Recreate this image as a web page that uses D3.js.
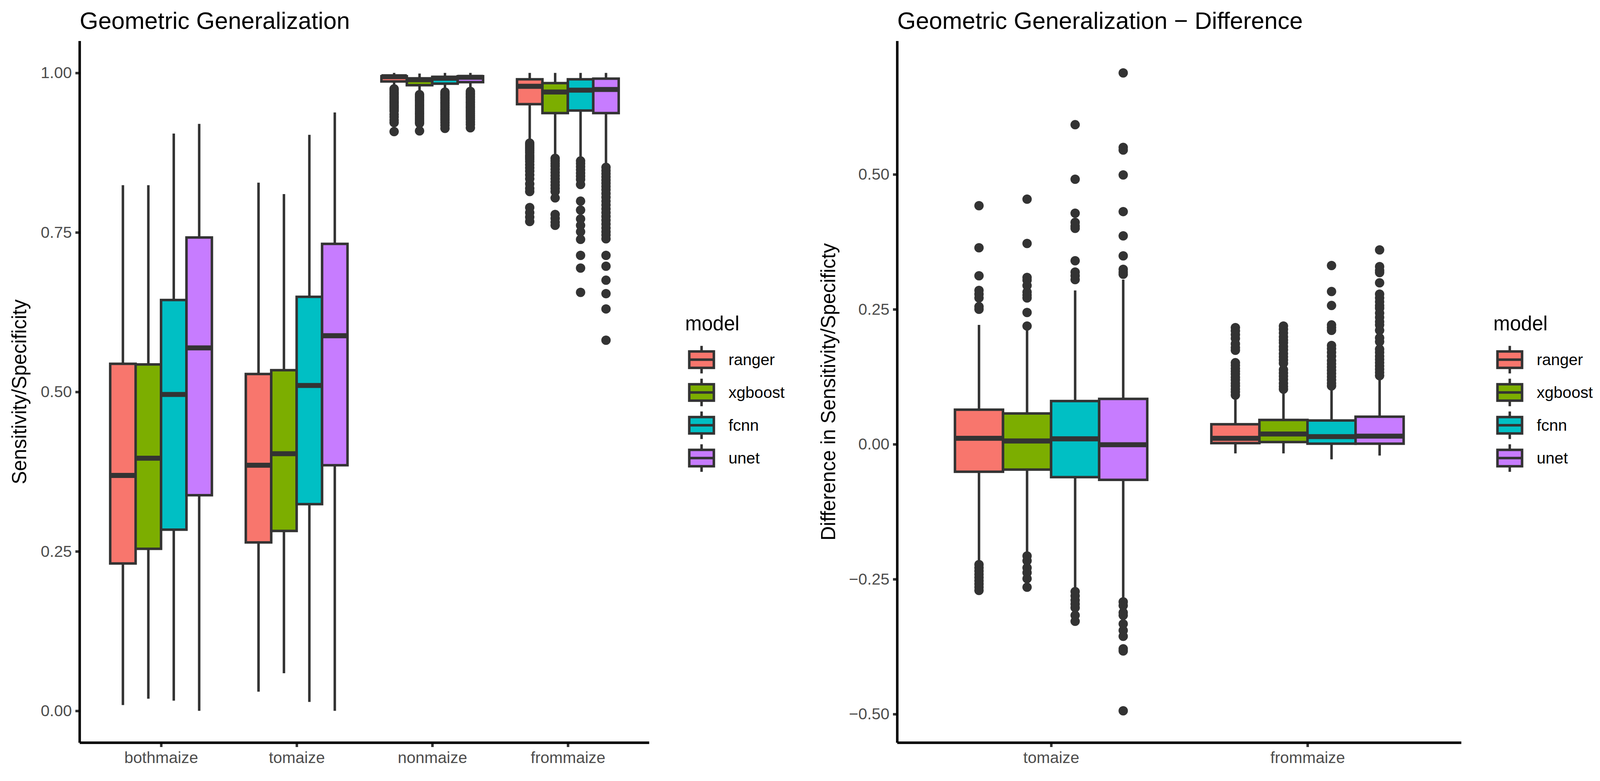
<!DOCTYPE html>
<html>
<head>
<meta charset="utf-8">
<script src="https://cdn.jsdelivr.net/npm/d3@7"></script>
<style>
  body { margin: 0; background: #fff; }
  text { font-family: "Liberation Sans", Arial, sans-serif; }
</style>
</head>
<body>
<svg id="chart" width="4103" height="2000"></svg>
<script>
const models = ['ranger', 'xgboost', 'fcnn', 'unet'];
const COLORS = ['#F8766D', '#7CAE00', '#00BFC4', '#C77CFF'];

// box stats per model: [lower whisker, Q1, median, Q3, upper whisker]
const geoCategories = ['bothmaize', 'tomaize', 'nonmaize', 'frommaize'];
const geoBothmaize = [
  [0.009, 0.231, 0.369, 0.544, 0.824],
  [0.019, 0.254, 0.396, 0.543, 0.824],
  [0.016, 0.284, 0.496, 0.644, 0.905],
  [0.0, 0.338, 0.569, 0.742, 0.920]
];
const geoTomaize = [
  [0.030, 0.264, 0.385, 0.528, 0.828],
  [0.059, 0.282, 0.403, 0.534, 0.810],
  [0.014, 0.324, 0.510, 0.649, 0.903],
  [0.0, 0.385, 0.588, 0.732, 0.938]
];
const geoNonmaize = [
  [0.977, 0.9866, 0.9941, 0.9948, 1.0],
  [0.968, 0.9807, 0.9893, 0.9914, 0.999],
  [0.972, 0.9831, 0.9917, 0.9938, 1.0],
  [0.973, 0.9855, 0.9931, 0.9948, 1.0]
];
const geoFrommaize = [
  [0.892, 0.951, 0.979, 0.990, 1.0],
  [0.868, 0.937, 0.970, 0.984, 1.0],
  [0.864, 0.941, 0.973, 0.990, 1.0],
  [0.854, 0.937, 0.974, 0.991, 1.0]
];
const geoNonmaizeOutliers = [
  [0.975, 0.973, 0.970, 0.968, 0.966, 0.963, 0.961, 0.959, 0.956, 0.954, 0.952, 0.949, 0.947, 0.945, 0.942, 0.940, 0.935, 0.931, 0.926, 0.922, 0.908],
  [0.966, 0.963, 0.961, 0.958, 0.956, 0.953, 0.950, 0.948, 0.945, 0.943, 0.940, 0.937, 0.935, 0.932, 0.929, 0.926, 0.923, 0.921, 0.909],
  [0.970, 0.967, 0.965, 0.962, 0.960, 0.957, 0.954, 0.952, 0.949, 0.946, 0.943, 0.941, 0.938, 0.935, 0.932, 0.929, 0.926, 0.922, 0.918, 0.913],
  [0.971, 0.968, 0.966, 0.963, 0.961, 0.958, 0.955, 0.953, 0.950, 0.947, 0.945, 0.942, 0.939, 0.936, 0.933, 0.930, 0.927, 0.923, 0.919, 0.914]
];
const geoFrommaizeOutliers = [
  [0.890, 0.887, 0.884, 0.881, 0.878, 0.875, 0.871, 0.868, 0.865, 0.861, 0.856, 0.851, 0.846, 0.840, 0.834, 0.826, 0.819, 0.814, 0.789, 0.781, 0.774, 0.767],
  [0.866, 0.862, 0.858, 0.854, 0.849, 0.844, 0.839, 0.834, 0.829, 0.824, 0.819, 0.814, 0.804, 0.778, 0.772, 0.766, 0.761],
  [0.862, 0.858, 0.853, 0.848, 0.843, 0.838, 0.833, 0.825, 0.799, 0.785, 0.771, 0.761, 0.751, 0.739, 0.714, 0.694, 0.656],
  [0.852, 0.847, 0.842, 0.837, 0.832, 0.827, 0.822, 0.817, 0.811, 0.805, 0.799, 0.793, 0.787, 0.781, 0.775, 0.769, 0.763, 0.757, 0.751, 0.746, 0.740, 0.714, 0.697, 0.675, 0.654, 0.630, 0.581]
];
const geoTicks = [0, 0.25, 0.5, 0.75, 1];

const diffCategories = ['tomaize', 'frommaize'];
const diffTomaize = [
  [-0.221, -0.051, 0.011, 0.064, 0.221],
  [-0.202, -0.047, 0.006, 0.057, 0.213],
  [-0.266, -0.061, 0.010, 0.080, 0.285],
  [-0.287, -0.066, -0.001, 0.084, 0.305]
];
const diffFrommaize = [
  [-0.017, 0.002, 0.011, 0.037, 0.087],
  [-0.017, 0.004, 0.019, 0.045, 0.100],
  [-0.028, 0.001, 0.014, 0.044, 0.106],
  [-0.021, 0.001, 0.015, 0.051, 0.121]
];
const diffTomaizeOutliers = [
  [0.442, 0.364, 0.312, 0.285, 0.278, 0.271, 0.255, 0.250, -0.223, -0.229, -0.235, -0.241, -0.247, -0.253, -0.259, -0.265, -0.271],
  [0.454, 0.372, 0.309, 0.304, 0.294, 0.282, 0.276, 0.271, 0.244, 0.219, -0.207, -0.216, -0.229, -0.238, -0.249, -0.265],
  [0.592, 0.491, 0.428, 0.411, 0.404, 0.400, 0.340, 0.319, 0.312, 0.305, -0.273, -0.281, -0.289, -0.296, -0.303, -0.317, -0.328],
  [0.688, 0.550, 0.545, 0.499, 0.431, 0.386, 0.349, 0.324, 0.319, 0.315, -0.292, -0.299, -0.312, -0.317, -0.333, -0.345, -0.356, -0.379, -0.383, -0.494]
];
const diffFrommaizeOutliers = [
  [0.216, 0.210, 0.203, 0.196, 0.186, 0.179, 0.174, 0.151, 0.146, 0.140, 0.135, 0.130, 0.124, 0.119, 0.113, 0.108, 0.102, 0.097, 0.091],
  [0.219, 0.213, 0.206, 0.199, 0.193, 0.188, 0.181, 0.175, 0.168, 0.162, 0.156, 0.150, 0.138, 0.132, 0.126, 0.120, 0.113, 0.107, 0.102],
  [0.331, 0.283, 0.257, 0.221, 0.216, 0.211, 0.183, 0.177, 0.170, 0.163, 0.155, 0.149, 0.143, 0.137, 0.131, 0.125, 0.119, 0.113, 0.108],
  [0.360, 0.329, 0.322, 0.318, 0.299, 0.278, 0.271, 0.264, 0.257, 0.252, 0.243, 0.235, 0.227, 0.221, 0.211, 0.197, 0.190, 0.176, 0.170, 0.163, 0.157, 0.151, 0.145, 0.139, 0.133, 0.127]
];
const diffTicks = [-0.5, -0.25, 0, 0.25, 0.5];

const LINE = '#333333';
const LW = 6.4;

const svg = d3.select('#chart');
svg.append('rect').attr('width', 4103).attr('height', 2000).attr('fill', '#fff');

// turn the arrays into one row per box
const toRows = (categories, boxes, outliers) => {
  const rows = [];
  categories.forEach((cat, ci) => {
    models.forEach((m, mi) => {
      const s = boxes[ci][mi];
      rows.push({
        cat, model: m, color: COLORS[mi],
        low: s[0], q1: s[1], med: s[2], q3: s[3], high: s[4],
        out: outliers[ci] ? outliers[ci][mi] : []
      });
    });
  });
  return rows;
};

const geoRows = toRows(geoCategories, [geoBothmaize, geoTomaize, geoNonmaize, geoFrommaize],
  [null, null, geoNonmaizeOutliers, geoFrommaizeOutliers]);
const diffRows = toRows(diffCategories, [diffTomaize, diffFrommaize],
  [diffTomaizeOutliers, diffFrommaizeOutliers]);

const drawPanel = (opt) => {
  const g = svg.append('g');
  const x = d3.scalePoint().domain(opt.categories).range([opt.left, opt.right]).padding(0.6);
  const dodge = d3.scaleBand().domain(models).range([-0.375 * x.step(), 0.375 * x.step()]);

  const vals = opt.rows.flatMap(r => [r.low, r.high, ...r.out]);
  const lo = d3.min(vals), hi = d3.max(vals), span = hi - lo;
  const y = d3.scaleLinear().domain([lo - 0.05 * span, hi + 0.05 * span]).range([opt.bottom, opt.top]);

  const boxes = g.selectAll('g.box').data(opt.rows).join('g').attr('class', 'box')
    .attr('transform', d => `translate(${x(d.cat) + dodge(d.model)},0)`);
  const bw = dodge.bandwidth();

  // outliers first, then whiskers, then the box (ggplot order)
  boxes.selectAll('circle').data(d => d.out).join('circle')
    .attr('cx', bw / 2).attr('cy', v => y(v)).attr('r', 12).attr('fill', LINE);

  boxes.append('line').attr('x1', bw / 2).attr('x2', bw / 2)
    .attr('y1', d => y(d.q3)).attr('y2', d => y(d.high))
    .attr('stroke', LINE).attr('stroke-width', LW);
  boxes.append('line').attr('x1', bw / 2).attr('x2', bw / 2)
    .attr('y1', d => y(d.q1)).attr('y2', d => y(d.low))
    .attr('stroke', LINE).attr('stroke-width', LW);

  boxes.append('rect').attr('x', 0).attr('width', bw)
    .attr('y', d => y(d.q3)).attr('height', d => y(d.q1) - y(d.q3))
    .attr('fill', d => d.color).attr('stroke', LINE).attr('stroke-width', LW)
    .attr('stroke-linejoin', 'miter');
  boxes.append('line').attr('x1', 0).attr('x2', bw)
    .attr('y1', d => y(d.med)).attr('y2', d => y(d.med))
    .attr('stroke', LINE).attr('stroke-width', LW * 2);

  // axes
  const yAxis = g.append('g').attr('transform', `translate(${opt.left},0)`)
    .call(d3.axisLeft(y).tickValues(opt.ticks).tickFormat(d3.format('.2f')).tickSize(11).tickPadding(9));
  const xAxis = g.append('g').attr('transform', `translate(0,${opt.bottom})`)
    .call(d3.axisBottom(x).tickSize(11).tickPadding(9));
  [yAxis, xAxis].forEach(a => {
    a.select('.domain').remove();
    a.selectAll('.tick line').attr('stroke', LINE).attr('stroke-width', LW);
    a.selectAll('.tick text').attr('fill', '#4D4D4D').attr('font-size', 41)
      .attr('font-family', '"Liberation Sans", Arial, sans-serif');
  });
  xAxis.selectAll('.tick text').attr('dy', '0.78em');
  g.append('line').attr('x1', opt.left).attr('x2', opt.left).attr('y1', opt.top).attr('y2', opt.bottom)
    .attr('stroke', '#000').attr('stroke-width', LW);
  g.append('line').attr('x1', opt.left).attr('x2', opt.right).attr('y1', opt.bottom).attr('y2', opt.bottom)
    .attr('stroke', '#000').attr('stroke-width', LW);

  g.append('text').attr('x', opt.left).attr('y', 74).attr('font-size', 61).attr('fill', '#000')
    .text(opt.title);
  g.append('text').attr('transform', `translate(${opt.yTitleX},${(opt.top + opt.bottom) / 2}) rotate(-90)`)
    .attr('text-anchor', 'middle').attr('dy', '0.35em').attr('font-size', 51).attr('fill', '#000')
    .text(opt.yTitle);

  // legend
  const lg = g.append('g').attr('transform', `translate(${opt.legendX},0)`);
  lg.append('text').attr('x', 0).attr('y', 846).attr('font-size', 51).attr('fill', '#000').text('model');
  const key = 84;
  const items = lg.selectAll('g.key').data(models).join('g').attr('class', 'key')
    .attr('transform', (d, i) => `translate(0,${921 + i * key})`);
  items.append('line').attr('x1', key / 2).attr('x2', key / 2).attr('y1', -key * 0.42).attr('y2', -key * 0.25)
    .attr('stroke', LINE).attr('stroke-width', LW);
  items.append('line').attr('x1', key / 2).attr('x2', key / 2).attr('y1', key * 0.25).attr('y2', key * 0.42)
    .attr('stroke', LINE).attr('stroke-width', LW);
  items.append('rect').attr('x', key * 0.125).attr('width', key * 0.75).attr('y', -key * 0.25).attr('height', key * 0.5)
    .attr('fill', (d, i) => COLORS[i]).attr('stroke', LINE).attr('stroke-width', LW);
  items.append('line').attr('x1', key * 0.125).attr('x2', key * 0.875).attr('y1', 0).attr('y2', 0)
    .attr('stroke', LINE).attr('stroke-width', LW);
  items.append('text').attr('x', key + 27).attr('dy', '0.35em').attr('font-size', 41).attr('fill', '#000')
    .text(d => d);
};

drawPanel({
  rows: geoRows, categories: geoCategories, ticks: geoTicks,
  left: 204, right: 1662, top: 105, bottom: 1902,
  title: 'Geometric Generalization', yTitle: 'Sensitivity/Specificity', yTitleX: 49,
  legendX: 1754
});
drawPanel({
  rows: diffRows, categories: diffCategories, ticks: diffTicks,
  left: 2297, right: 3741, top: 105, bottom: 1902,
  title: 'Geometric Generalization \u2212 Difference', yTitle: 'Difference in Sensitivity/Specificty', yTitleX: 2120,
  legendX: 3823
});
</script>
</body>
</html>
